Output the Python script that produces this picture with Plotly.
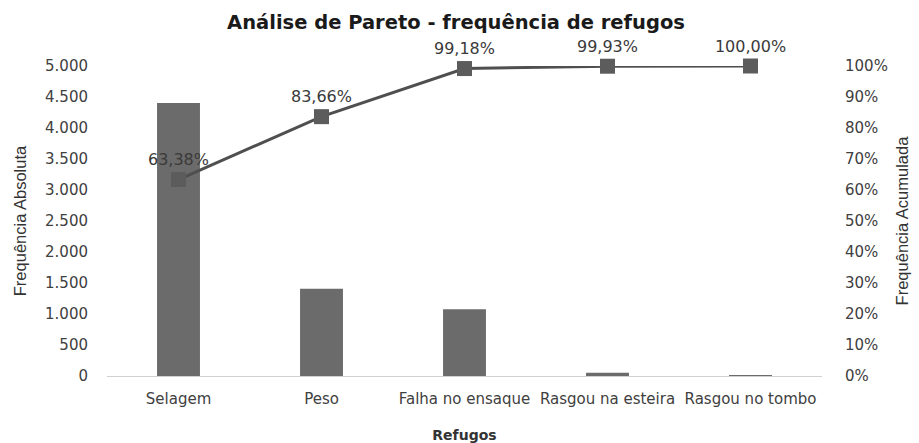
import plotly.graph_objects as go

categorias = ["Selagem", "Peso", "Falha no ensaque", "Rasgou na esteira", "Rasgou no tombo"]
frequencia_absoluta = [4404, 1409, 1078, 52, 5]
frequencia_acumulada = [63.38, 83.66, 99.18, 99.93, 100.00]

rotulos_acum = [f"{v:.2f}%".replace(".", ",") for v in frequencia_acumulada]

fonte_eixo = "DejaVu Sans, Verdana, sans-serif"
fonte_titulo_eixo = "Liberation Sans, Arial, sans-serif"

fig = go.Figure()

fig.add_trace(go.Bar(
    x=categorias,
    y=frequencia_absoluta,
    marker=dict(color="#6b6b6b", line=dict(width=0)),
    width=0.3,
    name="Frequência Absoluta",
    yaxis="y",
))

fig.add_trace(go.Scatter(
    x=categorias,
    y=[v / 100 for v in frequencia_acumulada],
    mode="lines+markers+text",
    line=dict(color="#4f4f4f", width=3),
    marker=dict(symbol="square", size=15, color="#5c5c5c"),
    text=rotulos_acum,
    textposition="top center",
    textfont=dict(family=fonte_eixo, size=16, color="#3a3a3a"),
    cliponaxis=False,
    name="Frequência Acumulada",
    yaxis="y2",
))

fig.update_layout(
    width=919,
    height=443,
    margin=dict(l=107, r=97, t=66, b=67),
    paper_bgcolor="white",
    plot_bgcolor="white",
    separators=",.",
    showlegend=False,
    bargap=0.7,
    title=dict(
        text="<b>Análise de Pareto - frequência de refugos</b>",
        x=456 / 919, xanchor="center",
        y=1 - 22 / 443, yanchor="middle",
        font=dict(family=fonte_eixo, size=19.5, color="#1a1a1a"),
    ),
    xaxis=dict(
        automargin=False,
        showgrid=False,
        showline=True,
        linecolor="#d0d0d0",
        linewidth=1,
        ticks="",
        ticklabelstandoff=9,
        tickfont=dict(family=fonte_eixo, size=15, color="#404040"),
        title=dict(
            text="<b>Refugos</b>",
            font=dict(family=fonte_eixo, size=14, color="#333333"),
            standoff=26,
        ),
    ),
    yaxis=dict(
        automargin=False,
        range=[0, 5000],
        tickvals=[0, 500, 1000, 1500, 2000, 2500, 3000, 3500, 4000, 4500, 5000],
        tickformat=",d",
        showgrid=False,
        zeroline=False,
        showline=False,
        ticks="",
        ticklabelstandoff=18,
        tickfont=dict(family=fonte_eixo, size=15, color="#404040"),
        title=dict(
            text="Frequência Absoluta",
            font=dict(family=fonte_titulo_eixo, size=16.5, color="#333333"),
            standoff=14,
        ),
    ),
    yaxis2=dict(
        automargin=False,
        range=[0, 1],
        overlaying="y",
        side="right",
        tickvals=[i / 10 for i in range(11)],
        tickformat=".0%",
        showgrid=False,
        zeroline=False,
        showline=False,
        ticks="",
        ticklabelstandoff=22,
        tickfont=dict(family=fonte_eixo, size=15, color="#404040"),
        title=dict(
            text="Frequência Acumulada",
            font=dict(family=fonte_titulo_eixo, size=16.5, color="#333333"),
            standoff=9,
        ),
    ),
)

fig.write_html("out.html")
